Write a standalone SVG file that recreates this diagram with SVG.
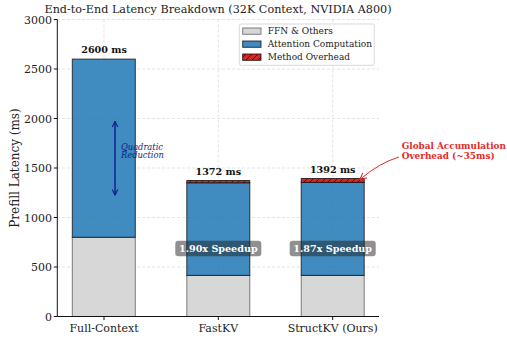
<svg xmlns="http://www.w3.org/2000/svg" width="507" height="338" viewBox="0 0 507 338">
<style>
text{font-family:"DejaVu Serif","Liberation Serif",serif}
.grid{stroke:#d9d9d9;stroke-width:0.7;stroke-dasharray:3,2;fill:none}
.ffn{fill:#d3d3d3;fill-opacity:0.9;stroke:#333;stroke-opacity:0.6;stroke-width:1}
.att{fill:#1f77b4;fill-opacity:0.85;stroke:#111;stroke-opacity:0.8;stroke-width:1}
.ovh{fill:url(#hatch);stroke:#111;stroke-width:0.8}
.tick{font-size:11px;fill:#222}
.val{font-size:9.6px;font-weight:bold;text-anchor:middle;fill:#111}
.spd{fill:#222;fill-opacity:0.5}
.spdt{font-size:9.6px;font-weight:bold;fill:#fff;text-anchor:middle}
.leg{font-size:9px;fill:#222}
.quad{font-size:8.3px;font-style:italic;fill:#0b1f8a}
.ann{font-size:8.9px;font-weight:bold;fill:#e02b2b}
</style>
<defs>
<pattern id="hatch" patternUnits="userSpaceOnUse" width="6" height="6">
<rect width="6" height="6" fill="#d62728"/>
<path d="M-1,7 L7,-1 M-1,1 L1,-1 M5,7 L7,5" stroke="#111" stroke-width="0.8"/>
</pattern>
<marker id="nv" viewBox="0 0 10 10" refX="9" refY="5" markerWidth="7" markerHeight="7" orient="auto-start-reverse" markerUnits="userSpaceOnUse">
<path d="M1,1 L9,5 L1,9" fill="none" stroke="#0b1f8a" stroke-width="1.6"/>
</marker>
<marker id="rd" viewBox="0 0 10 10" refX="9" refY="5" markerWidth="8" markerHeight="8" orient="auto" markerUnits="userSpaceOnUse">
<path d="M1,1 L9,5 L1,9" fill="none" stroke="#e02b2b" stroke-width="1.4"/>
</marker>
</defs>
<rect width="507" height="338" fill="#fff"/>
<text x="218" y="13.2" font-size="11.2" text-anchor="middle" fill="#222">End-to-End Latency Breakdown (32K Context, NVIDIA A800)</text>
<g id="grid">
<path class="grid" d="M57,19.5H379M57,69H379M57,118.5H379M57,168H379M57,217.5H379M57,267H379M104,19.5V316.5M218.3,19.5V316.5M332.7,19.5V316.5"/>
</g>
<g id="bar-full">
<rect class="ffn" x="72.3" y="237.3" width="63" height="79.2"/>
<rect class="att" x="72.3" y="59.1" width="63" height="178.2"/>
<text class="val" x="104" y="53">2600 ms</text>
</g>
<g id="bar-fastkv">
<rect class="ffn" x="186.8" y="275.4" width="63" height="41.1"/>
<rect class="att" x="186.8" y="182.8" width="63" height="92.6"/>
<rect class="ovh" x="186.8" y="180.6" width="63" height="2.2"/>
<text class="val" x="218.3" y="175">1372 ms</text>
</g>
<g id="bar-structkv">
<rect class="ffn" x="301.2" y="275.4" width="63" height="41.1"/>
<rect class="att" x="301.2" y="182.3" width="63" height="93.1"/>
<rect class="ovh" x="301.2" y="178.6" width="63" height="3.7"/>
<text class="val" x="332.7" y="173">1392 ms</text>
</g>
<g id="axes" stroke="#111" stroke-width="1" fill="none">
<path d="M57.3,19.5V316.5H379"/>
<path d="M57.3,19.5h-3.5M57.3,69h-3.5M57.3,118.5h-3.5M57.3,168h-3.5M57.3,217.5h-3.5M57.3,267h-3.5M57.3,316.5h-3.5M104,316.5v3.5M218.3,316.5v3.5M332.7,316.5v3.5"/>
</g>
<g id="yticks" text-anchor="end">
<text class="tick" x="52" y="23.7">3000</text>
<text class="tick" x="52" y="73">2500</text>
<text class="tick" x="52" y="122.5">2000</text>
<text class="tick" x="52" y="172">1500</text>
<text class="tick" x="52" y="221.5">1000</text>
<text class="tick" x="52" y="271">500</text>
<text class="tick" x="52" y="320.5">0</text>
</g>
<g id="xticks" text-anchor="middle">
<text class="tick" x="104" y="331.5">Full-Context</text>
<text class="tick" x="218.3" y="331.5">FastKV</text>
<text class="tick" x="332.7" y="331.5">StructKV (Ours)</text>
</g>
<text x="19" y="168" font-size="12" text-anchor="middle" fill="#222" transform="rotate(-90 19 168)">Prefill Latency (ms)</text>
<g id="connectors">
<path d="M115,121.5V195" stroke="#0b1f8a" stroke-width="1.4" fill="none" marker-start="url(#nv)" marker-end="url(#nv)"/>
<path d="M399,157 Q379,163 360,179.5" stroke="#e02b2b" stroke-width="1" fill="none" marker-end="url(#rd)"/>
</g>
<g id="quad-label">
<text class="quad" x="121" y="149.5">Quadratic</text>
<text class="quad" x="121" y="158.3">Reduction</text>
</g>
<g id="speedup-fastkv">
<rect class="spd" x="175.3" y="240.7" width="86" height="15.5" rx="3"/>
<text class="spdt" x="218.3" y="251.7">1.90x Speedup</text>
</g>
<g id="speedup-structkv">
<rect class="spd" x="289.7" y="240.7" width="86" height="15.5" rx="3"/>
<text class="spdt" x="332.7" y="251.7">1.87x Speedup</text>
</g>
<g id="overhead-label">
<text class="ann" x="401.7" y="149">Global Accumulation</text>
<text class="ann" x="401.7" y="158.6">Overhead (~35ms)</text>
</g>
<g id="legend">
<rect x="239.3" y="24" width="135" height="41.3" rx="2" fill="#fff" fill-opacity="0.85" stroke="#d0d0d0" stroke-width="0.8"/>
<rect class="ffn" x="242.7" y="28" width="18.3" height="6.3"/>
<rect class="att" x="242.7" y="41" width="18.3" height="6.3"/>
<rect class="ovh" x="242.7" y="54" width="18.3" height="6.3"/>
<text class="leg" x="267.7" y="34.3">FFN &amp; Others</text>
<text class="leg" x="267.7" y="47.3">Attention Computation</text>
<text class="leg" x="267.7" y="60.3">Method Overhead</text>
</g>
</svg>
